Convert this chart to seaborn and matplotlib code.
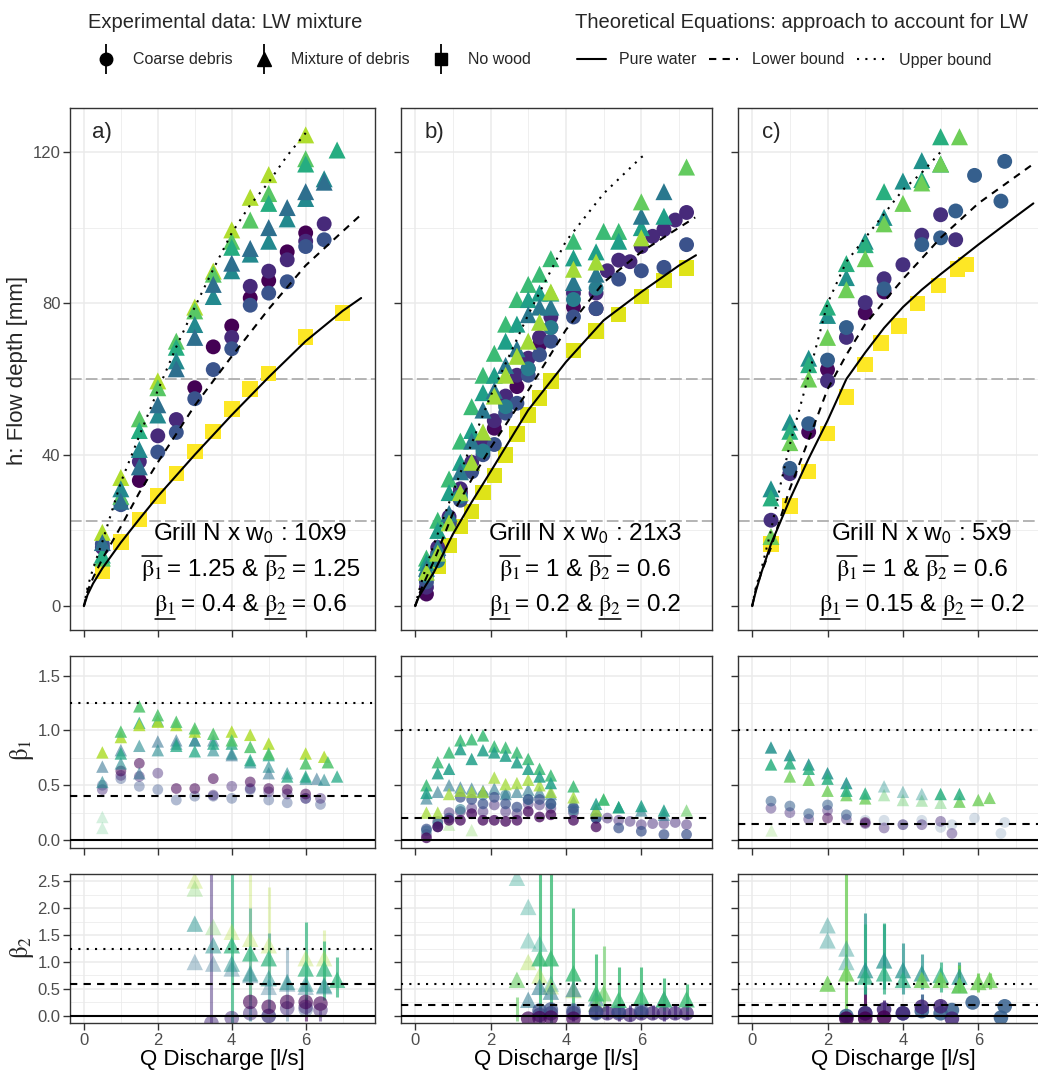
import numpy as np
import pandas as pd
import matplotlib.pyplot as plt
import matplotlib.lines as mlines
from matplotlib.legend_handler import HandlerTuple
from matplotlib.transforms import offset_copy
from matplotlib.ticker import MultipleLocator, FormatStrFormatter
import seaborn as sns

sns.set_theme(style="whitegrid")
plt.rcParams['font.family'] = ['Liberation Sans', 'DejaVu Sans']
plt.rcParams['mathtext.fontset'] = 'stix'
plt.rcParams['mathtext.default'] = 'rm'

# ---------------- data ----------------
PANELS = ['a)', 'b)', 'c)']
GRILL = ['10x9', '21x3', '5x9']
B1_UP = [1.25, 1, 1]
B2_UP = [1.25, 0.6, 0.6]
B1_LO = [0.4, 0.2, 0.15]
B2_LO = [0.6, 0.2, 0.2]
GRILL_LEVELS = [22.5, 60]
SHAPES = ['Coarse debris', 'Mixture of debris', 'No wood']
CURVES = ['Pure water', 'Lower bound', 'Upper bound']

# theoretical curves (Q [l/s], h [mm])
a_water_q = [0, 0.1, 0.25, 0.5, 1, 1.5, 2, 3, 4, 5, 6, 7, 7.5]
a_water_h = [0, 3, 6, 10, 16.8, 23, 29, 40, 50.5, 60.5, 70, 78, 81.4]
a_lower_q = [0, 0.1, 0.25, 0.5, 1, 1.5, 2, 3, 4, 5, 6, 7, 7.45]
a_lower_h = [0, 4, 7.5, 12.5, 21, 30, 38, 53, 66, 78.5, 90, 99, 103]
a_upper_q = [0, 0.1, 0.25, 0.5, 1, 1.5, 2, 2.5, 3, 3.5, 4, 4.5, 5, 5.5, 6]
a_upper_h = [0, 5, 10, 17, 32.7, 45, 57, 68.5, 79, 89, 98.6, 106, 112, 119, 125]

b_water_q = [0, 0.1, 0.25, 0.5, 1, 1.5, 2, 3, 4, 5, 6, 7, 7.45]
b_water_h = [0, 2.5, 5, 9, 19, 27.5, 35.5, 51.8, 64.5, 75.5, 83, 90, 92.7]
b_lower_q = [0, 0.1, 0.25, 0.5, 1, 1.5, 2, 3, 4, 5, 6, 7, 7.43]
b_lower_h = [0, 3, 6.5, 12, 24.5, 33.5, 41.8, 57, 73, 85.5, 93.6, 100, 102.7]
b_upper_q = [0, 0.1, 0.25, 0.5, 1, 1.5, 2, 3, 4, 5, 6, 6.15]
b_upper_h = [0, 4, 9, 16.4, 30, 43, 55.5, 77, 96.4, 109, 118.6, 119.5]

c_water_q = [0, 0.1, 0.25, 0.5, 1, 1.5, 2, 2.5, 3, 3.5, 4, 4.5, 5, 6, 7, 7.46]
c_water_h = [0, 4, 9, 16.4, 28.2, 39, 49, 60, 67, 73.5, 79, 83.6, 87.7, 95.5, 103, 106.4]
c_lower_q = [0, 0.1, 0.25, 0.5, 1, 1.5, 2, 2.5, 3, 4, 5, 6, 7.4]
c_lower_h = [0, 4.5, 9, 15.5, 31, 44, 57.3, 66.4, 74.5, 86.4, 97.3, 106.4, 116.4]
c_upper_q = [0, 0.1, 0.25, 0.5, 0.75, 1, 1.5, 2, 2.5, 3, 3.5, 4, 4.5, 5]
c_upper_h = [0, 5, 10, 20, 32, 42.7, 61, 80, 91, 97.3, 103.6, 110, 114.5, 120]

# flow depth runs: (viridis value, Q, h)
a_coarse = [
    (0.00, [1.5, 3, 3.5, 4, 4.5, 5, 5.5, 6], [33.2, 57.7, 68.5, 74, 81.4, 86, 93.6, 98.6]),
    (0.12, [0.5, 1.5, 2, 2.5, 4, 4.5, 5, 5.5, 6, 6.5], [15.5, 38.2, 45, 49.3, 71, 84.5, 88.5, 91.5, 96.4, 101]),
    (0.26, [0.5, 1, 2, 2.5, 3, 3.5, 4, 4.5, 5, 5.5, 6, 6.5],
     [16.4, 26.8, 40.7, 45.9, 54.8, 62.5, 68, 79.5, 82.7, 85.7, 95, 96.8]),
]
a_mixture = [
    (0.88, [0.5, 1, 2, 3, 3.5, 4, 4.5, 5, 6], [19.5, 34, 59.5, 79, 88.5, 99.4, 108, 114, 124.5]),
    (0.74, [0.5, 1, 1.5, 2, 2.5, 3, 3.5, 4, 4.5, 5, 6], [12.7, 29, 49.5, 57.7, 70, 78, 87.7, 96.4, 102, 109, 118.2]),
    (0.62, [0.5, 1.5, 2.5, 4, 5, 6, 6.85], [13.5, 46.4, 68.4, 94.8, 106.4, 116.8, 120.5]),
    (0.47, [1, 1.5, 2, 2.5, 3, 3.5, 4, 4.5, 5, 5.5, 6, 6.5],
     [31, 41.4, 50.5, 64.8, 74.4, 81.8, 88.6, 93, 96.4, 102.3, 107.7, 112.9]),
    (0.36, [0.5, 1, 1.5, 2, 2.5, 3, 3.5, 4, 4.5, 5, 5.5, 6, 6.5],
     [16.8, 27.7, 36.8, 53.2, 62.7, 71, 85, 90.6, 94.5, 100, 105.3, 109.5, 112]),
]
a_nowood = [
    (1.00, [0.5, 1, 1.5, 2, 2.5, 3, 3.5, 4, 4.5, 5, 6, 7],
     [9.1, 17, 22.9, 29.1, 35, 40.9, 46.2, 52.1, 57.3, 61.5, 71.1, 77.5]),
]

QL = [0.3, 0.6, 0.9, 1.2, 1.5, 1.8, 2.1, 2.4, 2.7, 3.0, 3.3, 3.6]
b_coarse = [
    (0.02, QL + [4.2, 4.8], [3.2, 14, 22, 30, 36, 42, 47, 53.6, 58, 62.7, 69, 73.6, 79, 78.6]),
    (0.12, QL + [4.2, 4.8, 5.1, 5.4, 5.7, 6.0, 6.3, 6.6, 6.9, 7.2],
     [5, 15.5, 23.6, 31, 38, 43.6, 49, 55.5, 61, 65.5, 71, 76.4,
      82.7, 82.7, 88.6, 91.4, 91, 95, 97.7, 99.5, 102, 104]),
    (0.25, QL + [4.2, 4.8, 5.4, 6.0, 6.6, 7.2],
     [6.4, 13, 21.8, 28, 35.5, 40, 42.7, 51, 53.6, 61, 66.4, 70, 76.4, 78.6, 86.4, 88.6, 89.5, 95.5]),
    (0.42, [0.3, 0.6, 1.2, 1.8, 2.4, 3.0, 3.6, 4.2, 4.8], [8, 12, 29, 41, 52.7, 62.7, 73.6, 81, 84]),
]
b_mixture = [
    (0.68, QL + [4.2, 5.0, 5.4], [12.7, 22.7, 33.6, 43.6, 52.7, 61, 66.8, 74.5, 81, 85, 87.7, 91.8, 96.4, 99, 99]),
    (0.56, QL + [4.2, 4.8, 5.4, 6.0, 6.6],
     [11.5, 20, 30, 38, 46.4, 56.4, 61, 70, 74.5, 81, 82.7, 82.7, 92, 93.6, 96.4, 100, 103]),
    (0.40, QL + [4.2, 4.8, 6.0, 6.6],
     [10, 15.5, 24.5, 35.5, 43.6, 51.8, 57, 63.6, 68, 77, 79, 79, 85.5, 87.7, 103, 109.5]),
    (0.86, QL + [4.2, 4.8, 6.0], [9, 14, 22, 30, 38, 46, 55.5, 61, 66, 70, 75, 83, 89, 90.9, 97.3]),
    (0.76, [6.0, 7.2], [106.8, 116]),
]
b_nowood = [
    (0.95, [0.6, 0.9, 1.2, 1.5, 1.8, 2.1, 2.4, 2.7, 3.0, 3.3, 3.6, 4.2, 4.8, 5.4, 6.0, 6.6, 7.2],
     [10.5, 16, 21, 25, 30, 34.5, 40, 45.5, 50.5, 55, 59.5, 67.5, 72.7, 77, 81.8, 86, 89.3]),
]

c_coarse = [
    (0.02, [1.5, 2, 3, 3.5], [46, 62.5, 77.5, 83]),
    (0.14, [0.5, 1, 2, 2.5, 3, 3.5, 4, 4.5, 5, 5.4], [22.7, 35, 59.5, 71, 80.2, 86.5, 90.2, 98, 103.4, 96.8]),
    (0.30, [1, 1.5, 2, 2.5, 3.5, 4.5, 5, 5.4, 5.9, 6.6, 6.7],
     [36.4, 48.2, 65, 73.6, 83.8, 95.5, 97.3, 104.4, 113.8, 107, 117.5]),
]
c_mixture = [
    (0.50, [0.5, 1, 1.5, 2, 2.5, 3, 3.5, 4, 4.5, 5], [31, 48.6, 65.5, 76.8, 86.8, 96.4, 102.7, 112.3, 117.7, 116.8]),
    (0.63, [0.5, 1, 1.5, 2, 2.5, 3, 3.5, 4.5, 5], [28.6, 46.2, 63.8, 79, 90.5, 95.5, 109.5, 112.7, 124]),
    (0.78, [0.5, 1, 1.5, 2, 2.5, 3, 3.5, 4, 4.5, 5, 5.5],
     [18.4, 43.2, 60, 71, 83.6, 91.8, 101, 106.4, 111.8, 116.8, 124]),
]
c_nowood = [
    (1.00, [0.5, 1, 1.5, 2, 2.5, 3, 3.42, 3.9, 4.39, 4.94, 5.45, 5.68],
     [16.4, 26.4, 35.6, 45.6, 55.3, 63.8, 69.5, 74, 80, 84.7, 89, 90.2]),
]

# beta_1 runs: (viridis value, alpha, Q, beta_1)
a_b1_mixture = [
    (0.88, 0.85, [0.5, 1, 1.5, 2, 2.5, 3, 4, 4.5, 5, 6, 6.5],
     [0.80, 0.94, 1.05, 1.08, 1.05, 0.99, 0.99, 0.96, 0.88, 0.79, 0.76]),
    (0.72, 0.85, [1, 1.5, 2, 2.5, 3, 3.5, 4, 4.5, 5, 6, 6.6],
     [0.99, 1.22, 1.14, 1.08, 1.02, 0.97, 0.91, 0.85, 0.79, 0.70, 0.71]),
    (0.60, 0.75, [1, 1.5, 2, 2.5, 3, 3.5, 4, 4.5, 5, 5.5, 6, 6.85],
     [0.79, 1.07, 1.09, 0.86, 0.81, 0.88, 0.88, 0.73, 0.775, 0.58, 0.58, 0.58]),
    (0.47, 0.6, [0.5, 1, 1.5, 2, 2.5, 3, 3.5, 4, 4.5, 5, 5.5, 6, 6.5],
     [0.53, 0.70, 0.86, 0.82, 0.88, 0.91, 0.82, 0.79, 0.71, 0.67, 0.61, 0.56, 0.55]),
    (0.36, 0.55, [0.5, 1, 1.5, 2, 2.5, 3, 3.5, 4, 5, 6.3],
     [0.67, 0.82, 0.61, 0.90, 0.91, 0.91, 0.91, 0.775, 0.61, 0.56]),
    (0.70, 0.22, [0.5, 0.5], [0.21, 0.11]),
]
a_b1_coarse = [
    (0.00, 0.55, [1, 1.5, 2.5, 3, 3.5, 4.5, 5, 5.5, 6], [0.63, 0.70, 0.47, 0.47, 0.56, 0.53, 0.47, 0.46, 0.42]),
    (0.12, 0.45, [0.5, 1, 1.5, 2, 3.5, 4, 4.5, 5, 5.5, 6, 6.4],
     [0.46, 0.59, 0.58, 0.61, 0.41, 0.49, 0.47, 0.44, 0.42, 0.38, 0.38]),
    (0.26, 0.4, [0.5, 1, 1.5, 2, 2.5, 3, 3.5, 4, 4.5, 5, 5.5, 6, 6.4],
     [0.50, 0.56, 0.49, 0.46, 0.365, 0.40, 0.40, 0.38, 0.46, 0.365, 0.34, 0.38, 0.325]),
]
b_b1_mixture = [
    (0.68, 0.85, QL + [4.2, 5.0, 5.4],
     [0.50, 0.71, 0.80, 0.91, 0.92, 0.955, 0.855, 0.845, 0.80, 0.74, 0.65, 0.59, 0.49, 0.37, 0.30]),
    (0.56, 0.85, QL + [4.8, 5.4, 6.0, 6.6],
     [0.43, 0.61, 0.65, 0.83, 0.74, 0.82, 0.80, 0.77, 0.71, 0.65, 0.58, 0.52, 0.33, 0.30, 0.31, 0.27]),
    (0.40, 0.6, QL + [4.2, 4.8, 6.0, 6.6],
     [0.38, 0.44, 0.50, 0.48, 0.47, 0.45, 0.47, 0.42, 0.44, 0.46, 0.44, 0.42, 0.35, 0.28, 0.27, 0.23]),
    (0.86, 0.75, QL + [4.2, 4.8],
     [0.25, 0.25, 0.42, 0.45, 0.44, 0.44, 0.57, 0.51, 0.52, 0.55, 0.50, 0.44, 0.39, 0.27]),
    (0.76, 0.6, [5.0, 7.2], [0.37, 0.27]),
    (0.80, 0.3, [0.9, 1.5], [0.14, 0.09]),
]
b_b1_coarse = [
    (0.02, 0.75, QL + [4.2, 4.8],
     [0.02, 0.12, 0.18, 0.18, 0.24, 0.18, 0.18, 0.17, 0.18, 0.26, 0.21, 0.23, 0.18, 0.12]),
    (0.12, 0.5, QL + [4.2, 4.8, 5.1, 5.4, 5.7, 6.0, 6.3, 6.6, 6.9, 7.2],
     [0.05, 0.17, 0.25, 0.26, 0.29, 0.26, 0.32, 0.26, 0.24, 0.33, 0.32, 0.29,
      0.25, 0.20, 0.20, 0.18, 0.17, 0.14, 0.15, 0.15, 0.16, 0.14]),
    (0.25, 0.7, QL + [4.2, 4.8, 5.4, 6.0, 6.6, 7.2],
     [0.10, 0.12, 0.20, 0.39, 0.37, 0.33, 0.39, 0.33, 0.30, 0.37, 0.37, 0.33, 0.29, 0.20, 0.11, 0.08, 0.05, 0.05]),
    (0.42, 0.55, [0.3, 0.6, 1.2, 1.8, 2.4, 3.0, 3.6, 4.2, 4.8], [0.085, 0.15, 0.28, 0.41, 0.41, 0.37, 0.33, 0.27, 0.20]),
]
c_b1_mixture = [
    (0.50, 0.85, [0.5, 1, 1.5, 2, 2.5], [0.845, 0.775, 0.69, 0.61, 0.52]),
    (0.63, 0.85, [0.5, 1, 1.5, 2, 2.5, 3, 5, 5.5], [0.69, 0.70, 0.65, 0.56, 0.45, 0.425, 0.42, 0.42]),
    (0.78, 0.8, [1, 1.5, 2, 2.5, 3, 5.5, 6, 6.3], [0.58, 0.55, 0.45, 0.41, 0.38, 0.35, 0.365, 0.385]),
    (0.75, 0.4, [3.5, 4, 4.5, 5], [0.41, 0.365, 0.36, 0.34]),
    (0.50, 0.4, [3.5, 4, 4.5], [0.49, 0.44, 0.42]),
    (0.80, 0.25, [0.5], [0.09]),
]
c_b1_coarse = [
    (0.30, 0.55, [0.5, 1, 1.5, 2, 2.5], [0.355, 0.31, 0.24, 0.32, 0.23]),
    (0.30, 0.2, [3, 3.5, 4, 4.5, 5, 5.3, 5.9, 6.6, 6.7], [0.18, 0.18, 0.14, 0.18, 0.115, 0.14, 0.20, 0.06, 0.16]),
    (0.12, 0.45, [0.5, 1, 1.5, 2, 2.5, 3, 3.5, 4, 4.5, 5, 5.3],
     [0.29, 0.25, 0.19, 0.27, 0.19, 0.15, 0.11, 0.14, 0.14, 0.17, 0.06]),
    (0.00, 0.5, [2, 3], [0.20, 0.16]),
]

# beta_2 runs: (viridis value, alpha, Q, beta_2, lower, upper)
a_b2_mixture = [
    (0.88, 0.3, [3, 4, 4.5, 5, 6, 6.5], [2.51, 1.56, 1.43, 1.31, 1.07, 1.07],
     [2.51, 1.56, 0.3, 0.7, 1.07, 0.5], [2.51, 1.56, 3.0, 2.38, 1.07, 1.6]),
    (0.78, 0.3, [3, 3.5], [2.36, 1.65], [2.36, 1.65], [2.36, 1.65]),
    (0.65, 0.7, [4, 4.5, 5, 6, 6.5, 6.85], [1.31, 1.16, 1.07, 0.88, 0.88, 0.67],
     [-0.2, 1.16, 1.07, 0.3, 0.3, 0.35], [3.0, 1.16, 1.07, 1.75, 1.38, 1.1]),
    (0.50, 0.5, [3, 3.5, 4, 4.5, 5, 5.5, 6, 6.5], [1.71, 1.31, 0.97, 0.79, 0.70, 0.63, 0.60, 0.57],
     [1.71, 1.31, 0.97, -0.1, 0.1, 0.63, 0.60, 0.57], [1.71, 1.31, 0.97, 2.0, 1.53, 0.63, 0.60, 0.57]),
    (0.36, 0.35, [3, 3.5, 4, 4.5, 5, 5.5, 6, 6.5], [1.0, 0.97, 0.88, 0.76, 0.54, 0.60, 0.54, 0.55],
     [1.0, 0.97, 0.88, 0.76, 0.54, -0.1, 0.54, 0.55], [1.0, 0.97, 0.88, 0.76, 0.54, 1.28, 0.54, 0.55]),
]
a_b2_coarse = [
    (0.00, 0.6, [4.5, 5, 5.5, 6, 6.4], [0.26, 0.17, 0.26, 0.26, 0.23],
     [0.26, 0.17, 0.26, -0.1, 0.23], [0.26, 0.17, 0.26, 0.35, 0.23]),
    (0.12, 0.5, [3.45, 4, 4.5, 5, 5.5, 6, 6.4], [-0.13, -0.04, 0.05, 0.0, 0.14, 0.17, 0.11],
     [-0.5, -0.04, 0.05, 0.0, 0.14, 0.17, -0.1], [3.0, -0.04, 0.05, 0.0, 0.14, 0.17, 0.11]),
    (0.28, 0.4, [5, 6], [0.0, 0.12], [0.0, 0.12], [0.0, 0.12]),
]
b_b2_mixture = [
    (0.68, 0.8, [3.3, 3.6, 4.2, 4.8, 5.4, 6.0, 6.6, 7.2], [1.07, 1.07, 0.79, 0.42, 0.30, 0.36, 0.31, 0.31],
     [-0.3, -0.3, 0.0, 0.1, 0.1, 0.1, 0.1, 0.1], [3.0, 3.0, 2.0, 1.15, 0.9, 0.9, 0.7, 0.6]),
    (0.56, 0.35, [2.7, 3.0, 3.0, 3.3, 3.6], [2.56, 2.02, 1.40, 1.34, 0.60],
     [2.56, 2.02, 1.40, 1.34, 0.60], [2.56, 2.02, 1.40, 1.34, 0.60]),
    (0.86, 0.35, [3.0, 3.3, 3.6, 4.2], [1.0, 0.75, 0.55, 0.48], [1.0, 0.75, 0.55, 0.48], [1.0, 0.75, 0.55, 0.48]),
    (0.76, 0.6, [2.7, 4.8, 5.0], [0.67, 0.23, 0.42], [-0.1, 0.23, 0.1], [0.35, 0.23, 1.3]),
    (0.40, 0.55, [3.0, 3.3, 3.6, 4.2, 4.8, 6.6], [0.30, 0.54, 0.45, 0.50, 0.33, 0.31],
     [0.30, 0.54, 0.45, 0.50, 0.33, 0.31], [0.30, 0.54, 0.45, 0.50, 0.33, 0.31]),
]
b_b2_coarse = [
    (0.12, 0.7, [3.3, 3.6, 4.2, 4.8, 5.1, 5.4, 5.7, 6.0, 6.3, 6.6, 6.9, 7.2],
     [0.02, 0.05, 0.05, 0.07, 0.05, 0.05, 0.02, 0.05, 0.05, 0.05, 0.05, 0.05],
     [-0.1, -0.1, -0.1, -0.05, -0.05, -0.1, -0.1, -0.05, -0.05, -0.1, -0.05, -0.05],
     [0.2, 0.25, 0.2, 0.25, 0.2, 0.2, 0.2, 0.2, 0.2, 0.2, 0.2, 0.2]),
    (0.25, 0.7, [3.3, 3.6, 4.2, 4.8, 5.4, 6.0], [0.10, 0.12, 0.10, 0.05, 0.08, 0.10],
     [0.10, 0.12, 0.10, 0.05, 0.08, 0.10], [0.10, 0.12, 0.10, 0.05, 0.08, 0.10]),
    (0.02, 0.7, [3.0, 3.3, 3.6, 4.2], [-0.05, -0.04, -0.03, -0.05],
     [-0.05, -0.04, -0.03, -0.05], [-0.05, -0.04, -0.03, -0.05]),
]
c_b2_mixture = [
    (0.50, 0.4, [2, 2, 2.5, 2.5], [1.68, 1.40, 1.25, 1.0], [1.68, 1.40, 1.25, 1.0], [1.68, 1.40, 1.25, 1.0]),
    (0.50, 0.7, [3, 3.5, 4, 4.5, 5.5], [0.85, 1.03, 0.85, 0.79, 0.73],
     [0.4, 0.5, 0.4, 0.5, 0.5], [1.9, 1.7, 1.35, 1.15, 1.0]),
    (0.63, 0.7, [3, 3.5, 4, 5, 5.5], [0.73, 0.79, 0.67, 0.76, 0.57],
     [0.4, 0.4, 0.67, 0.45, 0.45], [1.7, 1.72, 0.67, 1.0, 0.95]),
    (0.78, 0.8, [2, 2.5, 4.5, 5, 5.5, 6, 6.3], [0.60, 0.79, 0.67, 0.67, 0.57, 0.63, 0.67],
     [0.60, -0.1, 0.67, 0.67, 0.45, 0.45, 0.5], [0.60, 3.0, 0.67, 0.67, 0.95, 0.8, 0.8]),
]
c_b2_coarse = [
    (0.30, 0.85, [2.5, 3, 4, 4.5, 5, 5.3, 5.85, 6.6, 6.7], [0.0, 0.05, 0.05, 0.09, 0.05, 0.11, 0.25, -0.03, 0.18],
     [0.0, 0.05, 0.05, 0.0, 0.05, 0.11, 0.25, -0.03, 0.18], [0.0, 0.05, 0.05, 0.4, 0.05, 0.11, 0.25, -0.03, 0.18]),
    (0.12, 0.85, [3, 3.5, 4, 4.5, 5, 5.3], [0.05, 0.12, 0.05, 0.17, 0.18, -0.05],
     [0.05, 0.0, 0.05, 0.17, 0.05, -0.05], [0.05, 0.3, 0.05, 0.17, 0.3, -0.05]),
    (0.00, 0.85, [2.5, 3, 3.5], [-0.05, -0.05, -0.03], [-0.05, 0.2, -0.03], [-0.05, 0.55, -0.03]),
]

# ---------------- helpers ----------------
MARKERS = {'Coarse debris': 'o', 'Mixture of debris': '^', 'No wood': 's'}
CMAP = plt.get_cmap('viridis')


def to_frame(groups, alpha=False):
    rows = []
    for shape, runs in groups:
        for run in runs:
            if alpha:
                col, a, q, v = run[:4]
            else:
                (col, q, v), a = run, 1.0
            for qi, vi in zip(q, v):
                rows.append((shape, col, a, qi, vi))
    return pd.DataFrame(rows, columns=['shape', 'col', 'alpha', 'Q', 'v'])


def draw_points(ax, df, sizes):
    for a, sub in df.groupby('alpha'):
        sns.scatterplot(data=sub, x='Q', y='v', hue='col', hue_norm=(0, 1), palette='viridis',
                        style='shape', markers=MARKERS, size='shape', sizes=sizes,
                        linewidth=0, alpha=a, legend=False, ax=ax, zorder=2)


def style_ax(ax, labelx, labely):
    ax.set_facecolor('white')
    for s in ax.spines.values():
        s.set_visible(True)
        s.set_color('#333333')
        s.set_linewidth(1.0)
    ax.set_xlim(-0.375, 7.875)
    ax.xaxis.set_major_locator(MultipleLocator(2))
    ax.xaxis.set_minor_locator(MultipleLocator(1))
    ax.grid(True, which='major', color='#EBEBEB', lw=1.1)
    ax.grid(True, which='minor', color='#EBEBEB', lw=0.55)
    ax.set_axisbelow(True)
    ax.tick_params(which='major', length=5, width=1, color='#333333', labelcolor='#4D4D4D',
                   labelsize=12, bottom=True, left=True, labelbottom=labelx, labelleft=labely, pad=2)
    ax.tick_params(which='minor', length=0)
    ax.set_xlabel('')
    ax.set_ylabel('')


def rich_line(ax, x, y, segs, size=17.5):
    fig = ax.figure
    r = fig.canvas.get_renderer()
    gap = size * fig.dpi / 72 * 0.22
    arts = [ax.text(x, y, s, fontsize=size, ha='left', va='baseline', color='black', zorder=5) for s, _ in segs]
    ws = [t.get_window_extent(r).width for t in arts]
    off = -(sum(ws) + gap * (len(ws) - 1)) / 2
    inv = fig.transFigure.inverted()
    for t, w, (s, deco) in zip(arts, ws, segs):
        t.set_transform(offset_copy(ax.transData, fig=fig, x=off, y=0, units='dots'))
        if deco:
            bb = t.get_window_extent(r)
            yy = bb.y1 + 1.5 if deco == 'over' else bb.y0 - 1
            (fx0, fy), (fx1, _) = inv.transform([(bb.x0 + 1, yy), (bb.x1, yy)])
            fig.add_artist(mlines.Line2D([fx0, fx1], [fy, fy], color='black', lw=1.1))
        off += w + gap


DASH = (0, (3.5, 3))
DOT = (0, (1, 3))

# ---------------- figure ----------------
W, H = 1038, 1071
fig = plt.figure(figsize=(W / 100, H / 100), dpi=100)
col_x = [(70, 305), (401, 311), (738, 311)]
row_y = [(108, 630), (656, 848), (874, 1023)]


def add_ax(c, r):
    x0, w = col_x[c]
    y0, y1 = row_y[r]
    return fig.add_axes([x0 / W, 1 - y1 / H, w / W, (y1 - y0) / H])


flow = [(a_coarse, a_mixture, a_nowood), (b_coarse, b_mixture, b_nowood), (c_coarse, c_mixture, c_nowood)]
curves = [((a_water_q, a_water_h), (a_lower_q, a_lower_h), (a_upper_q, a_upper_h)),
          ((b_water_q, b_water_h), (b_lower_q, b_lower_h), (b_upper_q, b_upper_h)),
          ((c_water_q, c_water_h), (c_lower_q, c_lower_h), (c_upper_q, c_upper_h))]
beta1 = [(a_b1_coarse, a_b1_mixture), (b_b1_coarse, b_b1_mixture), (c_b1_coarse, c_b1_mixture)]
beta2 = [(a_b2_coarse, a_b2_mixture), (b_b2_coarse, b_b2_mixture), (c_b2_coarse, c_b2_mixture)]
styles = ['-', DASH, DOT]

for i in range(3):
    # flow depth
    ax = add_ax(i, 0)
    coarse, mixture, nowood = flow[i]
    df = to_frame([('No wood', nowood), ('Coarse debris', coarse), ('Mixture of debris', mixture)])
    draw_points(ax, df, {'Coarse debris': 115, 'Mixture of debris': 150, 'No wood': 125})
    for lvl in GRILL_LEVELS:
        ax.axhline(lvl, color='#A8A8A8', lw=1.2, ls=(0, (7, 2.5)), zorder=1.5)
    for (q, h), ls in zip(curves[i], styles):
        sns.lineplot(x=q, y=h, ax=ax, color='black', lw=1.5, linestyle=ls, sort=False,
                     estimator=None, zorder=3)
    style_ax(ax, False, i == 0)
    ax.set_ylim(-6.3, 131.6)
    ax.yaxis.set_major_locator(MultipleLocator(40))
    ax.yaxis.set_minor_locator(MultipleLocator(20))
    ax.text(0.5, 125, PANELS[i], fontsize=16, ha='center', va='center')
    rich_line(ax, 4.5, 17.3, [(r'Grill N x w$_\mathsf{0}$ : ' + GRILL[i], None)])
    rich_line(ax, 4.5, 8.0, [(r'$\beta_1$', 'over'), ('= {:g} &'.format(B1_UP[i]), None),
                             (r'$\beta_2$', 'over'), ('= {:g}'.format(B2_UP[i]), None)])
    rich_line(ax, 4.5, -1.4, [(r'$\beta_1$', 'under'), ('= {:g} &'.format(B1_LO[i]), None),
                              (r'$\beta_2$', 'under'), ('= {:g}'.format(B2_LO[i]), None)])

    # beta 1
    ax = add_ax(i, 1)
    coarse, mixture = beta1[i]
    df = to_frame([('Coarse debris', coarse), ('Mixture of debris', mixture)], alpha=True)
    draw_points(ax, df, {'Coarse debris': 60, 'Mixture of debris': 80, 'No wood': 60})
    ax.axhline(0, color='black', lw=1.5, zorder=3)
    ax.axhline(B1_LO[i], color='black', lw=1.5, ls=DASH, zorder=3)
    ax.axhline(B1_UP[i], color='black', lw=1.5, ls=DOT, zorder=3)
    style_ax(ax, False, i == 0)
    ax.set_ylim(-0.073, 1.68)
    ax.yaxis.set_major_locator(MultipleLocator(0.5))
    ax.yaxis.set_minor_locator(MultipleLocator(0.25))
    ax.yaxis.set_major_formatter(FormatStrFormatter('%.1f'))

    # beta 2
    ax = add_ax(i, 2)
    coarse, mixture = beta2[i]
    for runs in (coarse, mixture):
        for col, a, q, v, lo, hi in runs:
            ax.vlines(q, lo, hi, colors=[CMAP(col)], alpha=a, lw=2.2, zorder=1.8)
    df = to_frame([('Coarse debris', coarse), ('Mixture of debris', mixture)], alpha=True)
    draw_points(ax, df, {'Coarse debris': 110, 'Mixture of debris': 140, 'No wood': 110})
    ax.axhline(0, color='black', lw=1.5, zorder=3)
    ax.axhline(B2_LO[i], color='black', lw=1.5, ls=DASH, zorder=3)
    ax.axhline(B2_UP[i], color='black', lw=1.5, ls=DOT, zorder=3)
    style_ax(ax, True, i == 0)
    ax.set_ylim(-0.13, 2.63)
    ax.yaxis.set_major_locator(MultipleLocator(0.5))
    ax.yaxis.set_minor_locator(MultipleLocator(0.25))
    ax.yaxis.set_major_formatter(FormatStrFormatter('%.1f'))
    ax.set_xlabel('Q Discharge [l/s]', fontsize=16, labelpad=1, color='black')

fig.text(18 / W, 1 - 370 / H, 'h: Flow depth [mm]', rotation=90, ha='center', va='center', fontsize=16)
fig.text(22 / W, 1 - 750 / H, r'$\beta_1$', rotation=90, ha='center', va='center', fontsize=18)
fig.text(22 / W, 1 - 947 / H, r'$\beta_2$', rotation=90, ha='center', va='center', fontsize=18)


# ---------------- legends ----------------
def key(marker, ms):
    return (mlines.Line2D([], [], color='black', marker='|', markersize=22, markeredgewidth=1.3, ls='None'),
            mlines.Line2D([], [], color='black', marker=marker, markersize=ms, ls='None'))


fig.text(88 / W, 1 - 22 / H, 'Experimental data: LW mixture', fontsize=14.5, ha='left', va='center')
fig.text(575 / W, 1 - 22 / H, 'Theoretical Equations: approach to account for LW', fontsize=14.5,
         ha='left', va='center')
leg_kw = dict(frameon=False, fontsize=11.5, ncol=3, borderpad=0, borderaxespad=0, loc='center left')
fig.legend(handles=[key('o', 9), key('^', 10), key('s', 9)], labels=SHAPES,
           handler_map={tuple: HandlerTuple(ndivide=1)}, handlelength=1.9,
           bbox_to_anchor=(91 / W, 1 - 60 / H), handletextpad=0.75, columnspacing=1.0, **leg_kw)
fig.legend(handles=[mlines.Line2D([], [], color='black', lw=1.5, ls=s) for s in styles], labels=CURVES,
           handlelength=1.8, bbox_to_anchor=(577 / W, 1 - 60 / H), handletextpad=0.85,
           columnspacing=0.8, **leg_kw)

fig.savefig('out.png', dpi=100)
